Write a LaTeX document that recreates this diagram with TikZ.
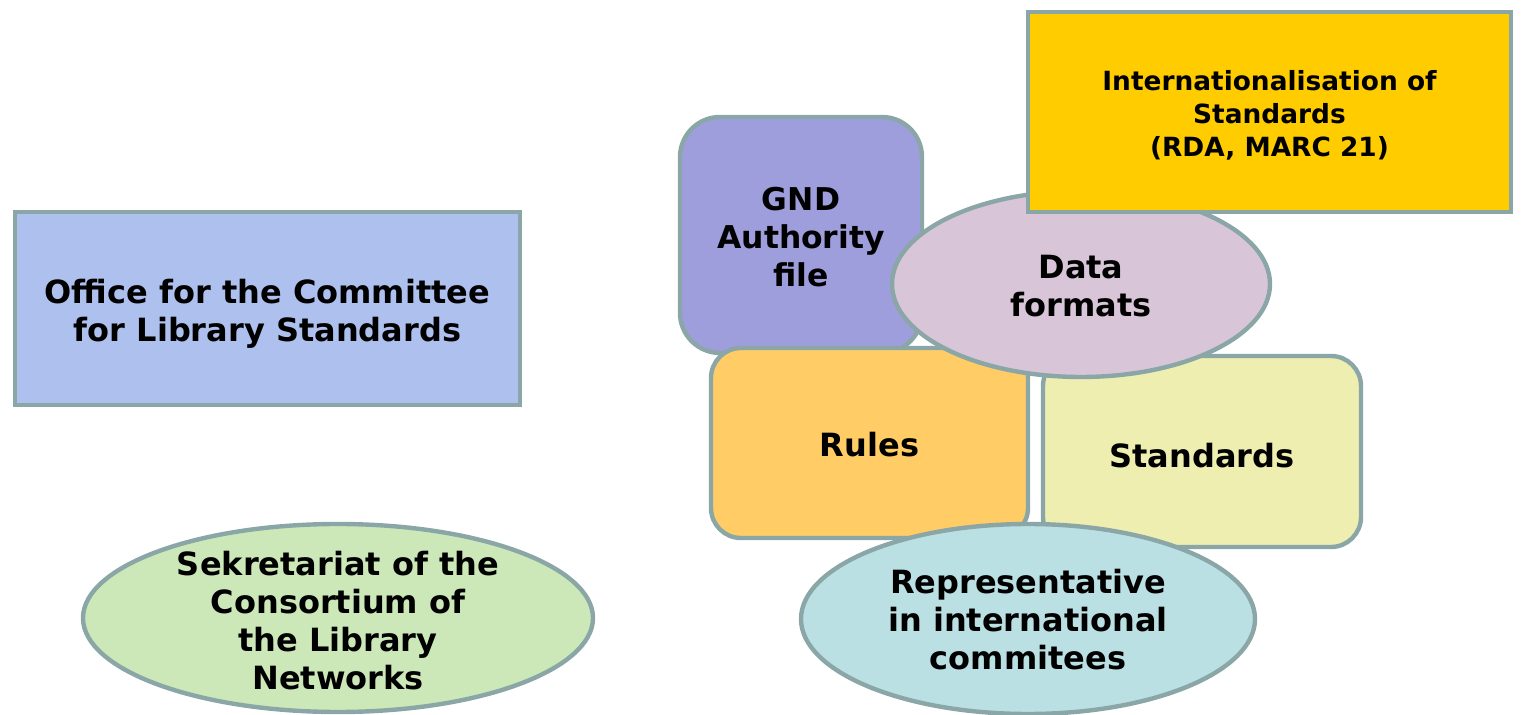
\documentclass[tikz,border=0pt]{standalone}
\usepackage{fontspec}
\setmainfont{DejaVu Sans}
\usetikzlibrary{shapes.geometric}
\definecolor{bord}{HTML}{8BA6A6}
\definecolor{cOffice}{HTML}{AEC0EE}
\definecolor{cSek}{HTML}{CCE8B8}
\definecolor{cGND}{HTML}{9E9EDC}
\definecolor{cData}{HTML}{D8C6D8}
\definecolor{cIntl}{HTML}{FFCC00}
\definecolor{cRules}{HTML}{FFCC66}
\definecolor{cStd}{HTML}{EEEEB0}
\definecolor{cRep}{HTML}{BBE0E3}
\tikzset{
  shp/.style={draw=bord, line width=2.2pt, align=center, font=\bfseries\fontsize{16}{19}\selectfont, inner sep=0pt},
  sqbox/.style={shp, rectangle},
  rbox/.style={shp, rectangle, rounded corners=#1},
  ell/.style={shp, ellipse},
  txt/.style={align=center, inner sep=0pt, font=\bfseries\fontsize{16}{19}\selectfont},
}
\begin{document}
\begin{tikzpicture}[x=0.5pt,y=-0.5pt]
\useasboundingbox (0,0) rectangle (1521,715);
% left
\node[sqbox, fill=cOffice, minimum width=252.5pt, minimum height=96.5pt] (office) at (267.5,308.5) {};
\node[txt] (officet) at ([yshift=-2.5pt]office.center) {Office for the Committee\\for Library Standards};
\node[ell, fill=cSek, minimum width=255pt, minimum height=94pt] (sek) at (338,618) {};
\node[txt] (sekt) at ([yshift=-1.5pt]sek.center) {Sekretariat of the\\Consortium of\\the Library\\Networks};
% right cluster
\node[rbox=20pt, fill=cGND, minimum width=121pt, minimum height=118pt] (gnd) at (801,235) {};
\node[txt, font=\bfseries\fontsize{15.7}{19}\selectfont] (gndt) at ([yshift=-0.8pt]gnd.center) {GND\\Authority\\file};
\node[rbox=15pt, fill=cRules, minimum width=158.5pt, minimum height=95pt] (rules) at (869.5,443) {};
\node[txt] (rulest) at ([yshift=-1pt]rules.center) {Rules};
\node[rbox=15pt, fill=cStd, minimum width=159pt, minimum height=95.5pt] (std) at (1202,451.5) {};
\node[txt] (stdt) at ([yshift=-2pt]std.center) {Standards};
\node[ell, fill=cData, minimum width=189pt, minimum height=93pt] (data) at (1081,284) {};
\node[txt] (datat) at ([yshift=-0.8pt]data.center) {Data\\formats};
\node[sqbox, fill=cIntl, minimum width=241.5pt, minimum height=100pt] (intl) at (1269.5,112) {};
\node[txt, font=\bfseries\fontsize{13.2}{16.5}\selectfont] (intlt) at ([yshift=-1.5pt]intl.center) {Internationalisation of\\Standards\\(RDA, MARC 21)};
\node[ell, fill=cRep, minimum width=227pt, minimum height=95pt] (rep) at (1028,619) {};
\node[txt] (rept) at ([yshift=-0.5pt]rep.center) {Representative\\in international\\commitees};
\end{tikzpicture}
\end{document}
